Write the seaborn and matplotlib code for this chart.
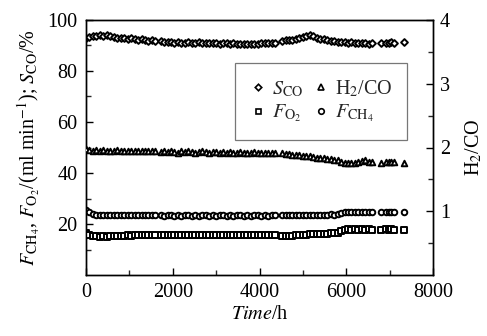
import numpy as np
import pandas as pd
import matplotlib
matplotlib.use("Agg")
import matplotlib.pyplot as plt
import seaborn as sns
from matplotlib.ticker import MultipleLocator, FixedLocator
from matplotlib.lines import Line2D

# ---------------- data ----------------
time_h = [0, 80, 160, 240, 320, 400, 480, 560, 640, 720, 800, 880, 960, 1040, 1120, 1200, 1280, 1360, 1440, 1520, 1600,
          1720, 1800, 1880, 1960, 2040, 2120, 2200, 2280, 2360, 2440, 2520, 2600, 2680, 2760, 2840, 2920, 3000, 3080,
          3160, 3240, 3320, 3400, 3480, 3560, 3640, 3720, 3800, 3880, 3960, 4040, 4120, 4200, 4280, 4360,
          4520, 4600, 4680, 4760, 4840, 4920, 5000, 5080, 5160, 5240, 5320, 5400, 5480, 5560, 5640, 5720, 5800, 5880,
          5960, 6040, 6120, 6200, 6280, 6360, 6440, 6520, 6600,
          6800, 6920, 6980, 7040, 7100, 7340]

s_co = [92.9, 93.3, 93.6, 93.8, 94.1, 93.8, 94.0, 93.6, 93.3, 93.0, 93.1, 92.8, 92.6, 92.8, 92.4, 92.2, 92.4, 92.0, 91.9, 92.1, 91.7,
        91.6, 91.5, 91.3, 91.4, 91.0, 91.2, 90.9, 91.1, 91.3, 90.8, 91.0, 91.2, 90.9, 91.0, 90.8, 91.1, 90.9, 90.7,
        91.0, 90.8, 90.6, 90.9, 90.7, 90.5, 90.6, 90.4, 90.6, 90.5, 90.7, 90.8, 90.9, 91.0, 90.9, 91.1,
        91.8, 92.0, 92.3, 92.2, 92.6, 92.9, 93.3, 93.7, 94.0, 93.6, 93.1, 92.7, 92.4, 92.0, 91.8, 91.6, 91.4, 91.5,
        91.2, 91.0, 91.3, 90.9, 91.1, 90.8, 91.0, 90.7, 90.9,
        90.8, 91.0, 91.1, 91.2, 91.1, 91.5]

h2_co = [1.97, 1.96, 1.95, 1.96, 1.95, 1.96, 1.95, 1.94, 1.95, 1.96, 1.95, 1.94, 1.95, 1.94, 1.95, 1.94, 1.95, 1.94, 1.94, 1.95, 1.94,
         1.93, 1.94, 1.93, 1.94, 1.93, 1.92, 1.94, 1.93, 1.94, 1.93, 1.92, 1.93, 1.94, 1.93, 1.92, 1.93, 1.93, 1.92,
         1.93, 1.92, 1.93, 1.92, 1.92, 1.93, 1.92, 1.91, 1.92, 1.93, 1.92, 1.91, 1.92, 1.91, 1.92, 1.91,
         1.91, 1.90, 1.90, 1.89, 1.88, 1.88, 1.87, 1.86, 1.86, 1.85, 1.84, 1.84, 1.83, 1.82, 1.82, 1.81, 1.80, 1.78,
         1.76, 1.75, 1.76, 1.75, 1.77, 1.79, 1.80, 1.78, 1.77,
         1.76, 1.77, 1.78, 1.78, 1.77, 1.76]

f_ch4 = [25.4, 24.6, 23.9, 23.6, 23.5, 23.4, 23.5, 23.4, 23.5, 23.4, 23.5, 23.4, 23.5, 23.5, 23.4, 23.5, 23.4, 23.5, 23.4, 23.5, 23.4,
         23.4, 23.3, 23.4, 23.4, 23.3, 23.4, 23.3, 23.4, 23.4, 23.3, 23.4, 23.3, 23.4, 23.4, 23.3, 23.4, 23.3, 23.4,
         23.4, 23.3, 23.4, 23.3, 23.4, 23.4, 23.3, 23.4, 23.3, 23.4, 23.4, 23.3, 23.4, 23.3, 23.4, 23.4,
         23.5, 23.6, 23.5, 23.6, 23.5, 23.6, 23.6, 23.5, 23.6, 23.7, 23.6, 23.7, 23.6, 23.7, 23.8, 23.7, 23.8, 24.2,
         24.7, 24.8, 24.8, 24.9, 24.8, 24.8, 24.9, 24.8, 24.8,
         24.8, 24.8, 24.9, 24.8, 24.8, 24.9]

f_o2 = [16.4, 15.8, 15.3, 15.1, 15.0, 15.1, 15.0, 15.2, 15.3, 15.2, 15.4, 15.3, 15.5, 15.4, 15.6, 15.5, 15.6, 15.7, 15.6, 15.7, 15.7,
        15.7, 15.6, 15.7, 15.8, 15.7, 15.6, 15.7, 15.8, 15.7, 15.7, 15.6, 15.7, 15.8, 15.7, 15.6, 15.7, 15.7, 15.8,
        15.7, 15.6, 15.7, 15.7, 15.8, 15.7, 15.6, 15.7, 15.7, 15.6, 15.7, 15.6, 15.7, 15.6, 15.7, 15.6,
        15.1, 15.2, 15.3, 15.3, 15.5, 15.6, 15.6, 15.8, 15.9, 15.9, 16.1, 16.0, 16.2, 16.1, 16.3, 16.4, 16.6, 17.3,
        17.8, 17.9, 17.8, 17.9, 17.8, 17.9, 17.8, 17.9, 17.8,
        17.8, 17.9, 17.8, 17.9, 17.8, 17.8]

x_ticks = [0, 2000, 4000, 6000, 8000]
left_ticks = [20, 40, 60, 80, 100]
right_ticks = [1, 2, 3, 4]

df = pd.DataFrame({"t": time_h, "s_co": s_co, "h2_co": h2_co, "f_ch4": f_ch4, "f_o2": f_o2})

# ---------------- style ----------------
sns.set_theme(style="ticks")
plt.rcParams["font.family"] = ["Liberation Serif", "DejaVu Serif"]
plt.rcParams["mathtext.fontset"] = "stix"
plt.rcParams["axes.linewidth"] = 1.0
FS = 14.5

fig = plt.figure(figsize=(4.87, 3.36), dpi=100)
ax = fig.add_axes([86 / 487, 1 - 275 / 336, (433 - 86) / 487, (275 - 20) / 336])
ax2 = ax.twinx()

mk = dict(s=16, facecolor="white", edgecolor="black", linewidth=1.4, legend=False, zorder=3)
sns.scatterplot(data=df, x="t", y="s_co", marker="D", ax=ax, **{**mk, "s": 12})
sns.scatterplot(data=df, x="t", y="f_ch4", marker="o", ax=ax, **mk)
sns.scatterplot(data=df, x="t", y="f_o2", marker="s", ax=ax, **{**mk, "s": 13})
sns.scatterplot(data=df, x="t", y="h2_co", marker="^", ax=ax2, **mk)

ax.set_xlim(0, 8000)
ax.set_ylim(0, 100)
ax2.set_ylim(0, 4)

ax.xaxis.set_major_locator(FixedLocator(x_ticks))
ax.xaxis.set_minor_locator(MultipleLocator(1000))
ax.yaxis.set_major_locator(FixedLocator(left_ticks))
ax.yaxis.set_minor_locator(FixedLocator([10, 30, 50, 70, 90]))
ax2.yaxis.set_major_locator(FixedLocator(right_ticks))
ax2.yaxis.set_minor_locator(FixedLocator([0.5, 1.5, 2.5, 3.5]))

for a in (ax, ax2):
    for sp in a.spines.values():
        sp.set_visible(True)
        sp.set_color("black")
        sp.set_linewidth(1.0)
ax.tick_params(axis="both", which="major", direction="in", length=5, width=1, labelsize=FS,
               colors="black", top=False, right=False, pad=6)
ax.tick_params(axis="both", which="minor", direction="in", length=3.5, width=1, top=False, right=False)
ax2.tick_params(axis="y", which="major", direction="in", length=5, width=1, labelsize=FS, colors="black", pad=5)
ax2.tick_params(axis="y", which="minor", direction="in", length=3.5, width=1)

ax.set_xlabel(r"$\mathit{Time}$/h", fontsize=FS, labelpad=2, color="black")
ax.set_ylabel(r"$F_{\mathrm{CH}_4}$, $F_{\mathrm{O}_2}$/(ml min$^{-1}$); $S_{\mathrm{CO}}$/%",
              fontsize=FS, labelpad=4, color="black")
ax2.set_ylabel(r"H$_2$/CO", fontsize=FS, labelpad=10, color="black")

def h(m, ms):
    return Line2D([], [], linestyle="none", marker=m, markersize=ms, markerfacecolor="white",
                  markeredgecolor="black", markeredgewidth=1.2)

handles = [h("D", 3.3), h("s", 3.6), h("^", 4.0), h("o", 4.0)]
labels = [r"$S_{\mathrm{CO}}$", r"$F_{\mathrm{O}_2}$", r"H$_2$/CO", r"$F_{\mathrm{CH}_4}$"]
leg = ax.legend(handles, labels, ncol=2, loc="upper left",
                bbox_to_anchor=((235 - 86) / 347, 1 - (63 - 20) / 255),
                fontsize=FS, frameon=True, fancybox=False, edgecolor="#555555",
                handlelength=0.8, handletextpad=0.3, columnspacing=0.45, borderpad=0.75,
                labelspacing=0.2, borderaxespad=0)
leg.get_frame().set_linewidth(0.9)

fig.savefig("out.png", dpi=100)
